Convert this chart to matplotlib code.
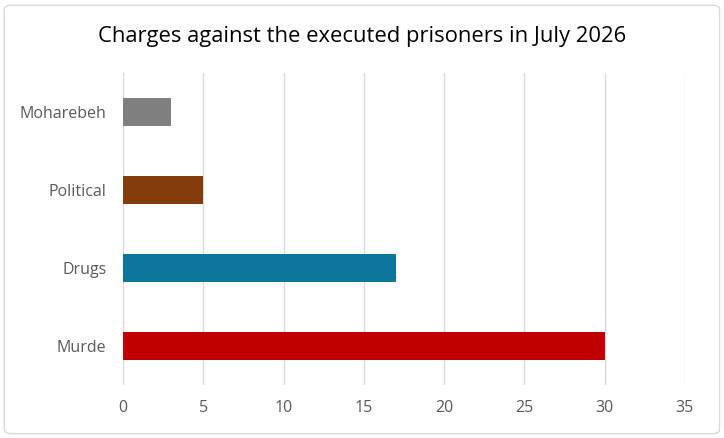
import matplotlib.pyplot as plt
from matplotlib.patches import FancyBboxPatch

categories = ["Murde", "Drugs", "Political", "Moharebeh"]
counts = [30, 17, 5, 3]
colors = ["#C00000", "#0E759C", "#843C0C", "#7F7F7F"]
x_ticks = [0, 5, 10, 15, 20, 25, 30, 35]

plt.rcParams['font.family'] = ['Open Sans', 'DejaVu Sans']

fig = plt.figure(figsize=(7.24, 4.38), dpi=100)
ax = fig.add_axes([0.170, 0.121, 0.776, 0.712])

ax.barh(categories, counts, height=0.36, color=colors, zorder=3)

ax.set_xlim(0, 35)
ax.set_ylim(-0.5, len(categories) - 0.5)
ax.set_xticks(x_ticks)
ax.grid(axis='x', color='#D9D9D9', linewidth=1, zorder=0)
for s in ax.spines.values():
    s.set_visible(False)
ax.tick_params(axis='both', length=0, labelsize=11.5, labelcolor='#595959')
ax.tick_params(axis='x', pad=11)
ax.tick_params(axis='y', pad=12)

fig.text(0.5, 0.917, "Charges against the executed prisoners in July 2026",
         ha='center', va='center', fontsize=15.8, color='#000000')

border = FancyBboxPatch((0.006, 0.01), 0.988, 0.978,
                        boxstyle="round,pad=0,rounding_size=0.01",
                        transform=fig.transFigure, fill=False,
                        edgecolor='#D9D9D9', linewidth=1)
fig.patches.append(border)

fig.savefig("out.png", dpi=100)
